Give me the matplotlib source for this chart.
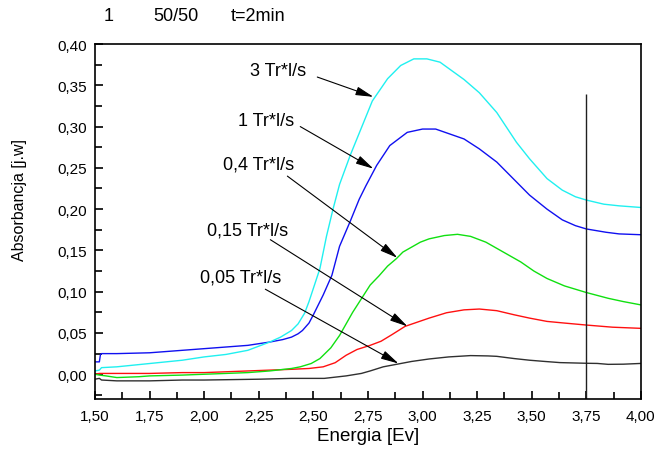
import matplotlib
matplotlib.use("Agg")
import matplotlib.pyplot as plt
from matplotlib.ticker import MultipleLocator, FuncFormatter

plt.rcParams["font.family"] = ["Liberation Sans", "DejaVu Sans"]

# ── Data ──────────────────────────────────────────────────

energy_3 = [1.50, 1.52, 1.53, 1.60, 1.75, 1.90, 2.00, 2.10, 2.20, 2.30, 2.35, 2.40,
            2.43, 2.46, 2.48, 2.50, 2.53, 2.56, 2.59, 2.62, 2.67, 2.73, 2.77, 2.84,
            2.90, 2.96, 3.02, 3.08, 3.19, 3.26, 3.34, 3.43, 3.49, 3.57, 3.64, 3.70,
            3.75, 3.83, 3.90, 4.00]
absorb_3 = [0.004, 0.005, 0.008, 0.009, 0.013, 0.017, 0.021, 0.024, 0.029, 0.039, 0.045, 0.053,
            0.061, 0.074, 0.088, 0.104, 0.128, 0.167, 0.200, 0.230, 0.266, 0.305, 0.331, 0.358,
            0.374, 0.382, 0.382, 0.378, 0.357, 0.341, 0.317, 0.281, 0.261, 0.237, 0.223, 0.215,
            0.211, 0.206, 0.204, 0.202]

energy_1 = [1.50, 1.52, 1.525, 1.53, 1.60, 1.75, 1.90, 2.00, 2.10, 2.20, 2.30, 2.36,
            2.40, 2.43, 2.45, 2.48, 2.50, 2.545, 2.585, 2.62, 2.67, 2.71, 2.74, 2.79,
            2.85, 2.93, 3.00, 3.06, 3.19, 3.26, 3.34, 3.43, 3.49, 3.57, 3.64, 3.70,
            3.75, 3.84, 3.90, 4.00]
absorb_1 = [0.015, 0.015, 0.024, 0.025, 0.025, 0.026, 0.029, 0.031, 0.033, 0.035, 0.039, 0.042,
            0.045, 0.049, 0.053, 0.062, 0.072, 0.096, 0.120, 0.155, 0.186, 0.212, 0.228, 0.253,
            0.277, 0.293, 0.297, 0.297, 0.285, 0.273, 0.257, 0.233, 0.217, 0.200, 0.187, 0.180,
            0.176, 0.172, 0.170, 0.169]

energy_04 = [1.50, 1.52, 1.55, 1.60, 1.70, 1.75, 1.90, 2.00, 2.10, 2.20, 2.30, 2.40,
             2.44, 2.49, 2.53, 2.58, 2.62, 2.68, 2.76, 2.80, 2.84, 2.88, 2.91, 2.99,
             3.03, 3.10, 3.16, 3.22, 3.29, 3.37, 3.45, 3.51, 3.57, 3.65, 3.75, 3.85,
             3.92, 4.00]
absorb_04 = [0.000, -0.001, -0.002, -0.004, -0.003, -0.002, -0.001, 0.000, 0.001, 0.002, 0.004, 0.007,
             0.009, 0.013, 0.019, 0.032, 0.047, 0.075, 0.108, 0.119, 0.131, 0.140, 0.148, 0.160,
             0.164, 0.168, 0.1695, 0.167, 0.160, 0.148, 0.136, 0.125, 0.116, 0.107, 0.099, 0.092,
             0.088, 0.084]

energy_015 = [1.50, 1.52, 1.60, 1.75, 1.90, 2.00, 2.10, 2.20, 2.30, 2.40, 2.48, 2.545,
              2.60, 2.65, 2.70, 2.76, 2.81, 2.86, 2.92, 3.03, 3.11, 3.19, 3.26, 3.34,
              3.42, 3.49, 3.57, 3.65, 3.75, 3.87, 4.00]
absorb_015 = [0.000, 0.001, 0.001, 0.001, 0.002, 0.002, 0.003, 0.004, 0.005, 0.006, 0.007, 0.009,
              0.014, 0.023, 0.030, 0.035, 0.040, 0.048, 0.058, 0.068, 0.0745, 0.078, 0.079, 0.077,
              0.072, 0.068, 0.064, 0.062, 0.0596, 0.057, 0.0556]

energy_005 = [1.50, 1.52, 1.53, 1.60, 1.75, 1.90, 2.00, 2.25, 2.40, 2.55, 2.65, 2.72,
              2.76, 2.82, 2.88, 2.95, 3.03, 3.12, 3.22, 3.30, 3.34, 3.42, 3.49, 3.56,
              3.63, 3.75, 3.80, 3.85, 3.92, 4.00]
absorb_005 = [-0.006, -0.005, -0.007, -0.008, -0.008, -0.007, -0.007, -0.006, -0.005, -0.005, -0.002, 0.001,
              0.004, 0.009, 0.012, 0.0155, 0.0185, 0.021, 0.0226, 0.0222, 0.0217, 0.019, 0.017, 0.0155,
              0.0141, 0.0133, 0.0131, 0.012, 0.0122, 0.0131]

# vertical marker line
marker_energy = 3.75
marker_top = 0.339

# (label, text position, arrow start, arrow tip)
labels = ["3 Tr*l/s", "1 Tr*l/s", "0,4 Tr*l/s", "0,15 Tr*l/s", "0,05 Tr*l/s"]
label_pos = [(2.211, 0.368), (2.156, 0.307), (2.087, 0.255), (2.014, 0.175), (1.982, 0.118)]
arrow_start = [(2.518, 0.360), (2.440, 0.300), (2.381, 0.240), (2.303, 0.163), (2.280, 0.103)]
arrow_tip = [(2.775, 0.336), (2.775, 0.249), (2.885, 0.141), (2.931, 0.058), (2.890, 0.013)]

# ── Plot ──────────────────────────────────────────────────

fig = plt.figure(figsize=(6.56, 4.52), dpi=100)
ax = fig.add_axes([0.1448, 0.115, 0.8322, 0.7854])

ax.plot(energy_005, absorb_005, color="#303030", lw=1.0)
ax.plot(energy_015, absorb_015, color="#ff1010", lw=1.0)
ax.plot(energy_04, absorb_04, color="#10e010", lw=1.0)
ax.plot(energy_1, absorb_1, color="#1010f0", lw=1.0)
ax.plot(energy_3, absorb_3, color="#20f0f0", lw=1.0)

ax.vlines(marker_energy, -0.03, marker_top, color="#202020", lw=1.0)

for text, pos, start, tip in zip(labels, label_pos, arrow_start, arrow_tip):
    ax.text(pos[0], pos[1], text, fontsize=13, ha="left", va="center")
    ax.annotate("", xy=tip, xytext=start,
                arrowprops=dict(arrowstyle="-|>,head_length=0.9,head_width=0.22",
                                color="black", lw=0.8, mutation_scale=12,
                                shrinkA=0, shrinkB=0))

ax.set_xlim(1.5, 4.0)
ax.set_ylim(-0.03, 0.40)
ax.xaxis.set_major_locator(MultipleLocator(0.25))
ax.xaxis.set_minor_locator(MultipleLocator(0.125))
ax.yaxis.set_major_locator(MultipleLocator(0.05))
ax.yaxis.set_minor_locator(MultipleLocator(0.025))
comma = FuncFormatter(lambda v, p: f"{v:.2f}".replace(".", ","))
ax.xaxis.set_major_formatter(comma)
ax.yaxis.set_major_formatter(comma)
ax.tick_params(which="both", direction="in", labelsize=11, width=1.2)
ax.tick_params(which="major", length=6)
ax.tick_params(which="minor", length=5)
ax.tick_params(axis="x", pad=7)
ax.tick_params(axis="y", pad=6)
for s in ax.spines.values():
    s.set_linewidth(1.2)

ax.set_xlabel("Energia [Ev]", fontsize=13.5, labelpad=3)
ax.set_ylabel("Absorbancja [j.w]", fontsize=11.5)
ax.yaxis.set_label_coords(-0.124, 0.563)

fig.text(0.166, 0.963, "1", fontsize=13, ha="center", va="center")
fig.text(0.268, 0.963, "50/50", fontsize=13, ha="center", va="center")
fig.text(0.393, 0.963, "t=2min", fontsize=13, ha="center", va="center")

fig.savefig("out.png", dpi=100)
plt.close(fig)
